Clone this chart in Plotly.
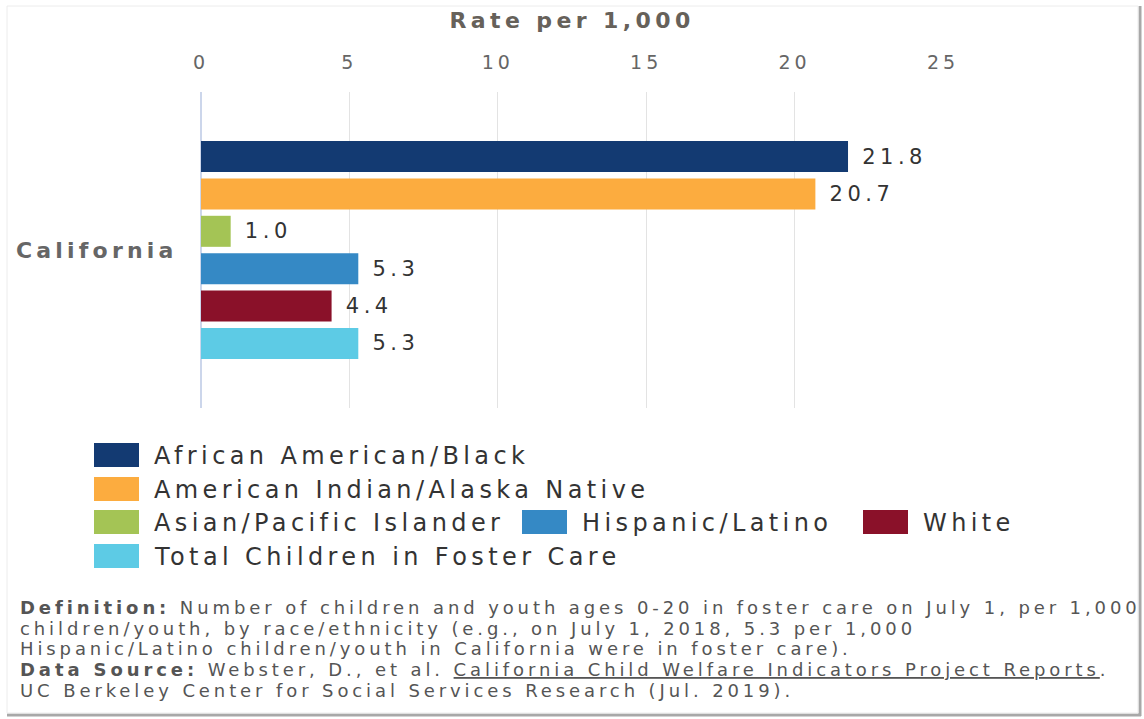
import plotly.graph_objects as go

# ---------------- data ----------------
category = ["California"]
series_names = [
    "African American/Black",
    "American Indian/Alaska Native",
    "Asian/Pacific Islander",
    "Hispanic/Latino",
    "White",
    "Total Children in Foster Care",
]
series_values = [21.8, 20.7, 1.0, 5.3, 4.4, 5.3]
series_colors = ["#133a72", "#fcac3f", "#a4c455", "#3589c5", "#8a1129", "#5dcbe5"]
x_ticks = [0, 5, 10, 15, 20, 25]

W, H = 1144, 719
L, R, T, B = 201, 943, 92, 408  # plot area in pixels


def px2x(px):
    return (px - L) / (R - L)


def py2y(py):
    return (B - py) / (B - T)


def sp(text, ls):
    return "<span style='letter-spacing:%.1fpx'>%s</span>" % (ls, text)


fig = go.Figure()
for name, val, col in zip(series_names, series_values, series_colors):
    fig.add_trace(go.Bar(
        name=name,
        y=category,
        x=[val],
        orientation="h",
        marker=dict(color=col, line=dict(width=0)),
        text=[val],
        texttemplate=sp("\u00a0%{x:.1f}", 4.5),
        textposition="outside",
        textfont=dict(family="DejaVu Sans", size=21, color="#333333"),
        cliponaxis=False,
        showlegend=False,
    ))

fig.update_layout(
    width=W, height=H,
    margin=dict(l=L, r=W - R, t=T, b=H - B, pad=0),
    paper_bgcolor="white",
    plot_bgcolor="white",
    barmode="group",
    bargap=0.29,
    bargroupgap=0.17,
    xaxis=dict(
        side="top",
        range=[0, 25],
        tickvals=x_ticks,
        ticktext=[sp(str(t), 4) for t in x_ticks],
        showgrid=True,
        gridcolor="#e3e3e3",
        gridwidth=1,
        zeroline=True,
        zerolinecolor="#ccd6eb",
        zerolinewidth=2,
        ticks="outside",
        ticklen=14,
        tickcolor="rgba(0,0,0,0)",
        tickfont=dict(family="DejaVu Sans", size=19, color="#666666"),
        title=dict(text=sp("<b>Rate per 1,000</b>", 4.4),
                   font=dict(family="DejaVu Sans", size=22, color="#66615a"),
                   standoff=16),
        showline=False,
        fixedrange=True,
    ),
    yaxis=dict(
        autorange="reversed",
        showgrid=False,
        zeroline=False,
        showline=False,
        ticks="outside",
        ticklen=18,
        tickcolor="rgba(0,0,0,0)",
        tickfont=dict(family="DejaVu Sans", size=22, color="#666666"),
        tickvals=category,
        ticktext=[sp("<b>%s</b>" % c, 4.2) for c in category],
        fixedrange=True,
    ),
)

shapes = []
annotations = []

# frame with shadow
shapes.append(dict(type="line", xref="paper", yref="paper",
                   x0=px2x(1140), x1=px2x(1140), y0=py2y(6), y1=py2y(716),
                   line=dict(color="#a8a8a8", width=3)))
shapes.append(dict(type="line", xref="paper", yref="paper",
                   x0=px2x(7), x1=px2x(1141), y0=py2y(715), y1=py2y(715),
                   line=dict(color="#a8a8a8", width=3)))
shapes.append(dict(type="rect", xref="paper", yref="paper",
                   x0=px2x(7), x1=px2x(1138), y0=py2y(6), y1=py2y(713),
                   line=dict(color="#ececec", width=1)))

# legend (manual, rows as in the reference)
legend_layout = [
    (0, 95, 455),
    (1, 95, 489),
    (2, 95, 522),
    (3, 523, 522),
    (4, 864, 522),
    (5, 95, 556),
]
sw_w, sw_h = 43, 22
for idx, sx, sy in legend_layout:
    x0, x1 = px2x(sx), px2x(sx + sw_w)
    y0, y1 = py2y(sy + sw_h / 2), py2y(sy - sw_h / 2)
    shapes.append(dict(type="rect", xref="paper", yref="paper",
                       x0=x0, x1=x1, y0=y0, y1=y1,
                       fillcolor=series_colors[idx],
                       line=dict(color=series_colors[idx], width=2)))
    annotations.append(dict(xref="paper", yref="paper",
                            x=px2x(sx + sw_w + 14), y=py2y(sy + 1),
                            xanchor="left", yanchor="middle",
                            text=sp(series_names[idx], 4.4), showarrow=False,
                            font=dict(family="DejaVu Sans", size=24, color="#333333")))

# definition / source text
foot_lines = [
    ("<b>Definition:</b> Number of children and youth ages 0-20 in foster care on July 1, per 1,000", 607),
    ("children/youth, by race/ethnicity (e.g., on July 1, 2018, 5.3 per 1,000", 628),
    ("Hispanic/Latino children/youth in California were in foster care).", 648),
    ("<b>Data Source:</b> Webster, D., et al. <span style='text-decoration:underline'>California Child Welfare Indicators Project Reports</span>.", 669),
    ("UC Berkeley Center for Social Services Research (Jul. 2019).", 690),
]
for txt, y in foot_lines:
    annotations.append(dict(xref="paper", yref="paper",
                            x=px2x(18), y=py2y(y),
                            xanchor="left", yanchor="middle",
                            text=sp(txt, 3.85), showarrow=False,
                            font=dict(family="DejaVu Sans", size=18, color="#555555")))

fig.update_layout(shapes=shapes, annotations=annotations)
fig.write_html("out.html")
